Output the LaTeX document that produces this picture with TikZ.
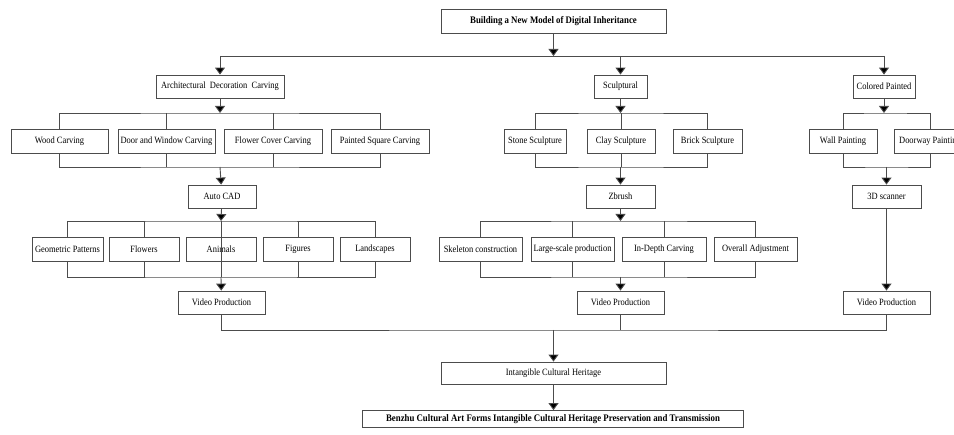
\documentclass[tikz,border=0pt]{standalone}
\usepackage{fontspec}
\setmainfont[FakeStretch=0.88]{Liberation Serif}
\usepackage{tikz}
\usetikzlibrary{arrows.meta, positioning, calc}

\begin{document}
\begin{tikzpicture}[x=1pt, y=-1pt,
      box/.style={draw=black!70, fill=white, line width=0.8pt, minimum height=24pt,
      inner sep=1pt, font=\fontsize{9.6pt}{11pt}\selectfont},
      titlebox/.style={box, font=\bfseries\fontsize{10pt}{11pt}\selectfont},
      link/.style={draw=black!70, line width=0.9pt},
      arr/.style={link, -{Triangle[width=10pt,length=7pt,fill=black]}} ]

    \useasboundingbox (0,0) rectangle (954,435);
    \clip (0,0) rectangle (954,435);

    % Top and bottom boxes
    \node[titlebox, minimum width=225pt] (top) at (553.5,21) {Building a New Model of Digital Inheritance};
    \node[box, minimum width=225pt, minimum height=22pt] (ich) at (553.5,373) {Intangible Cultural Heritage};
    \node[titlebox, minimum width=381pt, minimum height=17pt] (final) at (553,419) {Benzhu Cultural Art Forms Intangible Cultural Heritage Preservation and Transmission};

    % Three branches
    \node[box, minimum width=128pt, minimum height=23pt] (arch) at (220,86.5) {Architectural~ Decoration~ Carving};
    \node[box, minimum width=53pt, minimum height=23pt] (sculp) at (620.5,86.5) {Sculptural};
    \node[box, minimum width=62pt, minimum height=23pt] (color) at (884,86.5) {Colored Painted};

    % Second level
    \node[box, minimum width=97pt] (wood) at (59.5,141) {Wood Carving};
    \node[box, minimum width=97pt] (door) at (166.5,141) {Door and Window Carving};
    \node[box, minimum width=98pt] (flower) at (273,141) {Flower Cover Carving};
    \node[box, minimum width=98pt] (painted) at (380,141) {Painted Square Carving};
    \node[box, minimum width=62pt] (stone) at (535,141) {Stone Sculpture};
    \node[box, minimum width=68pt] (clay) at (621,141) {Clay Sculpture};
    \node[box, minimum width=69pt] (brick) at (707.5,141) {Brick Sculpture};
    \node[box, minimum width=68pt] (wall) at (843,141) {Wall Painting};
    \node[box, minimum width=72pt] (doorway) at (930,141) {Doorway Painting};

    % Tools
    \node[box, minimum width=68pt, minimum height=23pt] (autocad) at (222,196.5) {Auto CAD};
    \node[box, minimum width=69pt, minimum height=23pt] (zbrush) at (620.5,196.5) {Zbrush};
    \node[box, minimum width=69pt, minimum height=23pt] (scanner) at (886.5,196.5) {3D scanner};

    % Fourth level
    \node[box, minimum width=71pt] (geo) at (67.5,249) {Geometric Patterns};
    \node[box, minimum width=70pt] (flowers) at (144,249) {Flowers};
    \node[box, minimum width=70pt] (animals) at (221,249) {Animals};
    \node[box, minimum width=70pt] (figures) at (298,249) {Figures};
    \node[box, minimum width=70pt] (landsc) at (375,249) {Landscapes};
    \node[box, minimum width=83pt] (skel) at (480.5,249) {Skeleton construction};
    \node[box, minimum width=83pt] (large) at (572.5,249) {Large-scale production};
    \node[box, minimum width=84pt] (depth) at (664,249) {In-Depth Carving};
    \node[box, minimum width=83pt] (overall) at (755.5,249) {Overall Adjustment};

    % Video production
    \node[box, minimum width=87pt, minimum height=23pt] (vpa) at (221.5,302.5) {Video Production};
    \node[box, minimum width=87pt, minimum height=23pt] (vpb) at (620.5,302.5) {Video Production};
    \node[box, minimum width=87pt, minimum height=23pt] (vpc) at (886.5,302.5) {Video Production};

    % Bus points
    \coordinate (b0) at (553.5,56);
    \coordinate (b1) at (220,113); \coordinate (b2) at (220,167);
    \coordinate (b3) at (221,221); \coordinate (b4) at (221,277);
    \coordinate (s1) at (620.5,113); \coordinate (s2) at (620.5,167);
    \coordinate (s3) at (620.5,221); \coordinate (s4) at (620.5,277);
    \coordinate (c1) at (884,113); \coordinate (c2) at (886.5,167);
    \coordinate (j0) at (553.5,330);

    % Top to branches
    \draw[arr] (top) -- (b0);
    \draw[link] (arch.north |- b0) -- (color.north |- b0);
    \draw[arr] (arch.north |- b0) -- (arch);
    \draw[arr] (sculp.north |- b0) -- (sculp);
    \draw[arr] (color.north |- b0) -- (color);

    % Architectural decoration carving
    \draw[arr] (arch) -- (b1);
    \draw[link] (wood.north) |- (b1) -| (painted.north);
    \draw[link] (door.north) -- (door.north |- b1);
    \draw[link] (flower.north) -- (flower.north |- b1);
    \draw[link] (wood.south) |- (b2) -| (painted.south);
    \draw[link] (door.south) -- (door.south |- b2);
    \draw[link] (flower.south) -- (flower.south |- b2);
    \draw[arr] (b2) -- (autocad);
    \draw[arr] (autocad) -- (b3);
    \draw[link] (geo.north) |- (b3) -| (landsc.north);
    \draw[link] (flowers.north) -- (flowers.north |- b3);
    \draw[link] (figures.north) -- (figures.north |- b3);
    \draw[link] (geo.south) |- (b4) -| (landsc.south);
    \draw[link] (flowers.south) -- (flowers.south |- b4);
    \draw[link] (figures.south) -- (figures.south |- b4);
    \draw[link] (b3) -- (b4);
    \draw[arr] (b4) -- (vpa);

    % Sculptural
    \draw[arr] (sculp) -- (s1);
    \draw[link] (stone.north) |- (s1) -| (brick.north);
    \draw[link] (clay.north) -- (clay.north |- s1);
    \draw[link] (stone.south) |- (s2) -| (brick.south);
    \draw[link] (clay.south) -- (clay.south |- s2);
    \draw[arr] (s2) -- (zbrush);
    \draw[arr] (zbrush) -- (s3);
    \draw[link] (skel.north) |- (s3) -| (overall.north);
    \draw[link] (large.north) -- (large.north |- s3);
    \draw[link] (depth.north) -- (depth.north |- s3);
    \draw[link] (skel.south) |- (s4) -| (overall.south);
    \draw[link] (large.south) -- (large.south |- s4);
    \draw[link] (depth.south) -- (depth.south |- s4);
    \draw[arr] (s4) -- (vpb);

    % Colored painted
    \draw[arr] (color) -- (c1);
    \draw[link] (wall.north) |- (c1) -| (doorway.north);
    \draw[link] (wall.south) |- (c2) -| (doorway.south);
    \draw[arr] (c2) -- (scanner);
    \draw[arr] (scanner) -- (vpc);

    % Join to heritage
    \draw[link] (vpa.south) |- (j0) -| (vpc.south);
    \draw[link] (vpb.south) -- (vpb.south |- j0);
    \draw[arr] (j0) -- (ich);
    \draw[arr] (ich.south) -- (ich.south |- final.north);

\end{tikzpicture}
\end{document}
